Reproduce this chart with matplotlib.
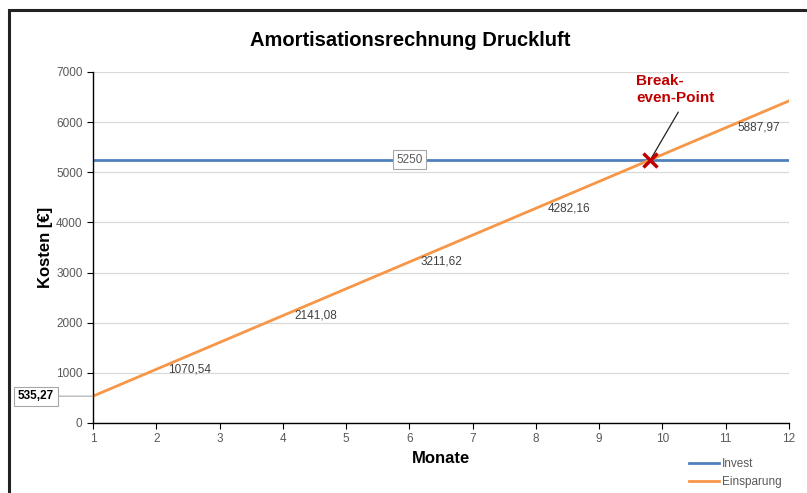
import matplotlib.pyplot as plt
from matplotlib.patches import Rectangle

plt.rcParams['font.family'] = ['Liberation Sans', 'DejaVu Sans']

# data
monate = [1, 2, 3, 4, 5, 6, 7, 8, 9, 10, 11, 12]
invest = [5250] * 12
einsparung = [535.27, 1070.54, 1605.81, 2141.08, 2676.35, 3211.62,
              3746.89, 4282.16, 4817.43, 5352.70, 5887.97, 6423.24]
label_monate = [2, 4, 6, 8, 11]
be_monat = 9.81
be_wert = 5250

c_invest = '#4F81BD'
c_spar = '#F79646'
grau = '#595959'

fig = plt.figure(figsize=(8.07, 4.93), dpi=100)
ax = fig.add_axes([0.1152, 0.142, 0.8625, 0.712])

# frame around chart
fig.patches.append(Rectangle((9/807, -0.05), 1.1, 1 - 10/493 + 0.05, transform=fig.transFigure,
                             fill=False, edgecolor='#222222', linewidth=2.2))

ax.plot(monate, invest, color=c_invest, lw=2, label='Invest')
ax.plot(monate, einsparung, color=c_spar, lw=2, label='Einsparung')

# data labels
for m in label_monate:
    v = einsparung[m - 1]
    ax.text(m + 0.18, v, f'{v:.2f}'.replace('.', ','), fontsize=8.5, color='#404040',
            va='center', ha='left')

ax.text(6, invest[5], str(invest[5]), fontsize=8.5, color=grau, ha='center', va='center',
        bbox=dict(boxstyle='square,pad=0.3', fc='white', ec='#A6A6A6', lw=0.8))

ax.annotate(f'{einsparung[0]:.2f}'.replace('.', ','), xy=(monate[0], einsparung[0]),
            xytext=(-28, 0), textcoords='offset points', fontsize=8.5, fontweight='bold',
            ha='right', va='center', annotation_clip=False,
            bbox=dict(boxstyle='square,pad=0.3', fc='white', ec='#A6A6A6', lw=0.8),
            arrowprops=dict(arrowstyle='-', color='#A6A6A6', lw=0.8, shrinkA=0, shrinkB=0))

# break-even
ax.plot(be_monat, be_wert, 'x', color='#C00000', ms=10, mew=2.5, zorder=5)
ax.annotate('', xy=(be_monat, be_wert), xytext=(be_monat + 0.44, 6200),
            arrowprops=dict(arrowstyle='-', color='#222222', lw=0.9, shrinkA=0, shrinkB=2))
ax.text(be_monat - 0.23, 6650, 'Break-\neven-Point', fontsize=11, fontweight='bold',
        color='#C00000', ha='left', va='center', linespacing=1.25)

ax.set_xlim(1, 12)
ax.set_ylim(0, 7000)
ax.set_xticks(range(1, 13))
ax.set_yticks(range(0, 7001, 1000))
ax.grid(axis='y', color='#D9D9D9', lw=0.9)
ax.set_axisbelow(True)
for s in ['top', 'right']:
    ax.spines[s].set_visible(False)
for s in ['left', 'bottom']:
    ax.spines[s].set_color('black')
    ax.spines[s].set_linewidth(1)
ax.tick_params(colors=grau, labelsize=8.5, length=4, direction='out')
ax.tick_params(axis='both', color='black')

fig.text(410/807, 1 - 40/493, 'Amortisationsrechnung Druckluft', fontsize=14.5,
         fontweight='bold', ha='center', va='center')
ax.set_xlabel('Monate', fontsize=12, fontweight='bold', labelpad=4)
ax.set_ylabel('Kosten [€]', fontsize=12, fontweight='bold', labelpad=2)

leg = fig.legend(loc='upper left', bbox_to_anchor=(0.84, 0.092), frameon=False,
                 fontsize=8.5, handlelength=2.6, labelspacing=0.5, handletextpad=0.2)
for t in leg.get_texts():
    t.set_color(grau)

fig.savefig('out.png', dpi=100)
